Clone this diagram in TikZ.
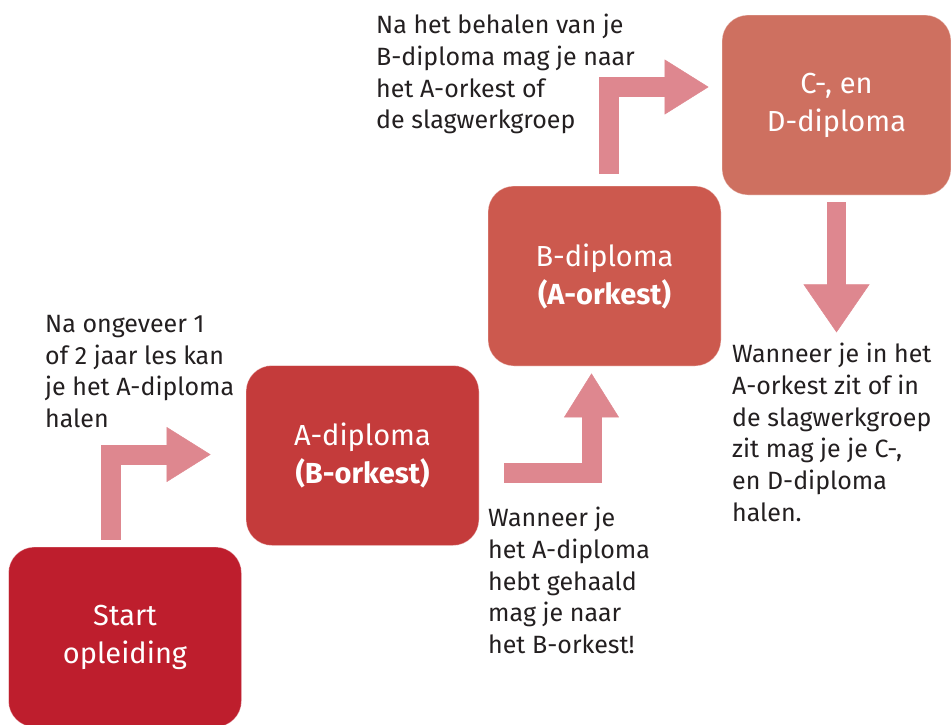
\documentclass[tikz,border=0pt]{standalone}
\usepackage{fontspec}
\setmainfont{Fira Sans}
\usetikzlibrary{arrows.meta}
\definecolor{startred}{HTML}{BE1E2D}
\definecolor{adipred}{HTML}{C43B3B}
\definecolor{bdipred}{HTML}{CC594E}
\definecolor{cdipred}{HTML}{CE7060}
\definecolor{arrowpink}{HTML}{DE878F}
\definecolor{textgray}{HTML}{231F20}

\begin{document}
\begin{tikzpicture}[
  x=1pt,
  y=-1pt,
  stage/.style={
    draw=white,
    draw opacity=0.4,
    line width=0.8pt,
    rounded corners=26pt,
    minimum width=233pt,
    minimum height=180pt,
    inner sep=0pt,
    text=white,
    align=center,
    font=\fontsize{29}{38}\selectfont
  },
  note/.style={
    anchor=north west,
    inner sep=0pt,
    align=left,
    text=textgray,
    font=\fontsize{25}{31.7}\selectfont
  },
  flow/.style={
    draw=arrowpink,
    line width=20pt,
    line join=miter,
    -{Triangle[width=55pt,length=44pt,line width=0.5pt]}
  }
]
\useasboundingbox (0,0) rectangle (951,724);

% Diplomas
\node[stage, fill=startred] (start) at (125,637) {Start\\opleiding};
\node[stage, fill=adipred] (adip) at (362.5,455.5) {A-diploma\\\textbf{(B-orkest)}};
\node[stage, fill=bdipred] (bdip) at (604.5,276) {B-diploma\\\textbf{(A-orkest)}};
\node[stage, fill=cdipred, minimum width=229pt] (cdip) at (836.5,105) {C-, en\\D-diploma};

% Notes
\node[note] (noteA) at (45,315) {Na ongeveer 1\\of 2 jaar les kan\\je het A-diploma\\halen};
\node[note] (noteB) at (376,14) {Na het behalen van je\\B-diploma mag je naar\\het A-orkest of\\de slagwerkgroep};
\node[note] (noteBork) at (488,507) {Wanneer je\\het A-diploma\\hebt gehaald\\mag je naar\\het B-orkest!};
\node[note] (noteC) at (732,343) {Wanneer je in het\\A-orkest zit of in\\de slagwerkgroep\\zit mag je je C-,\\en D-diploma\\halen.};

% Arrows
\draw[flow] ([xshift=-14pt,yshift=7pt]start.north) |- ([xshift=-35pt,yshift=1pt]adip.west);
\draw[flow] ([xshift=25pt,yshift=-17pt]adip.east) -| ([xshift=-13pt,yshift=-7pt]bdip.south);
\draw[flow] ([xshift=4.5pt,yshift=12pt]bdip.north) |- ([xshift=-13pt,yshift=18pt]cdip.west);
\coordinate (cend) at ([yshift=-137pt]cdip.south);
\draw[flow, line width=19pt, -{Triangle[width=66pt,length=48pt,line width=0.5pt]}]
  ([yshift=-7pt]cdip.south) -- (cend);

\end{tikzpicture}
\end{document}
